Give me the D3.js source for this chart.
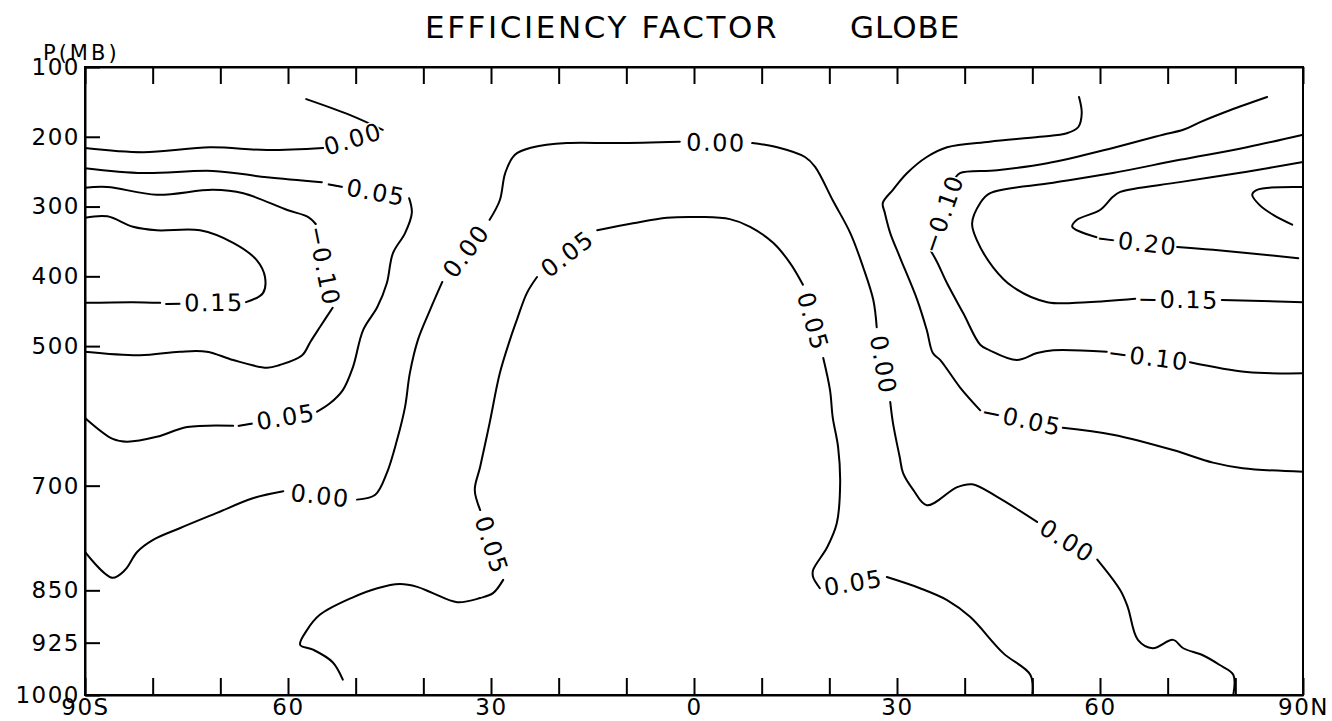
<!DOCTYPE html>
<html>
<head>
<meta charset="utf-8">
<script src="https://cdn.jsdelivr.net/npm/d3@7"></script>
<style>
  body { margin: 0; background: #fff; }
  svg { display: block; font-family: "DejaVu Sans", sans-serif; }
  .axis path, .axis line { stroke: #000; stroke-width: 2; }
  .axis text { font-size: 23px; letter-spacing: 1.5px; fill: #000; }
  .contour { fill: none; stroke: #000; stroke-width: 2; stroke-linejoin: round; stroke-linecap: round; }
  .clabel { font-size: 24px; letter-spacing: 1.5px; fill: #000; stroke: #fff; stroke-width: 3; paint-order: stroke; }
</style>
</head>
<body>
<div id="chart"></div>
<script>
// axis values
var latTicks = d3.range(-90, 91, 10);
var latLabels = [-90, -60, -30, 0, 30, 60, 90];
var pTicks = [100, 200, 300, 400, 500, 700, 850, 925, 1000];

// contour lines, [lat, pressure(mb)], null = gap where the label sits
var southUpper000 = [[-90,216],[-81.4,222],[-71.5,215],[-63.1,219],[-54.8,216],null,[-46.0,190],[-50.8,169],[-57.3,146]];
var southNeg005 = [[-90,245],[-81.4,252],[-71.1,249],[-63.1,258],[-55.0,265],null,[-42.1,288],[-41.7,309],[-42.7,338],
  [-44.5,367],[-45.4,410],[-46.8,444],[-48.9,477],[-50.4,530],[-51.9,563],[-53.8,582],[-55.7,594],null,
  [-68.1,614],[-74.9,616],[-79.4,630],[-83.8,637],[-85.9,633],[-90,603]];
var southNeg010 = [[-90,273],[-86.7,272],[-79.4,283],[-71.1,276],[-66.6,281],[-60.1,305],[-57.0,315],[-55.9,325],null,
  [-53.4,445],[-55.3,473],[-56.7,494],[-57.9,513],[-61.2,527],[-63.1,531],[-68.1,520],[-72.0,508],[-76.0,508],[-81.9,513],[-90,508]];
var southNeg015 = [[-90,316],[-86.7,314],[-82.9,329],[-79.4,334],[-73.0,334],[-68.1,352],[-64.6,377],[-63.4,401],
  [-63.7,424],[-66.2,437],null,[-78.9,438],[-82.9,437],[-90,438]];
var central000 = [[-90,795],[-86.0,832],[-84.1,821],[-82.3,795],[-80.0,778],[-76.0,761],[-70.5,739],[-65.2,718],[-60.7,708],null,
  [-49.8,720],[-47.1,713],[-45.4,682],[-43.9,635],[-42.7,587],[-42.0,539],[-40.8,491],[-39.0,448],[-37.2,408],null,
  [-30.2,319],[-28.7,291],[-27.9,252],[-26.5,226],[-23.8,215],[-18.8,209],[-11.4,209],[-2.1,207],null,
  [8.6,209],[12.3,215],[16.4,229],[17.9,243],[20.5,291],[23.1,338],[25.0,387],[26.5,434],[27.0,473],null,
  [29.0,580],[29.4,610],[30.4,659],[30.9,682],[32.4,706],[34.4,728],[38.9,702],[41.1,698],[44.8,716],[50.7,752],null,
  [59.6,806],[63.0,850],[64.1,874],[65.6,921],[67.8,933],[70.8,921],[72.3,933],[75.2,943],[77.7,957],[79.7,971],[79.7,1000]];
var central005 = [[-51.9,978],[-53.4,953],[-56.3,935],[-58.2,928],[-57.2,907],[-55.3,885],[-50.4,860],[-46.8,847],[-43.5,841],
  [-40.9,845],[-38.6,854],[-35.0,867],[-31.6,861],[-29.7,854],[-28.2,835],null,
  [-31.6,735],[-32.4,706],[-31.6,673],[-30.2,610],[-28.7,539],[-27.2,491],[-26.2,463],[-24.7,424],[-23.2,401],null,
  [-14.3,334],[-9.0,324],[-4.0,316],[0.9,315],[5.3,318],[8.3,329],[11.7,352],[14.2,381],[16.1,412],null,
  [19.1,517],[20.1,563],[20.5,602],[21.3,645],[21.6,696],[21.1,754],[19.7,788],[17.6,821],[17.6,831],[18.6,847],null,
  [28.5,831],[33.4,847],[37.4,864],[40.8,888],[45.7,940],[49.7,971],[50.0,1000]];
var northNeg005 = [[56.9,143],[57.3,166],[56.8,186],[55.1,195],[51.1,200],[43.7,207],[37.4,215],[34.4,229],[31.5,252],
  [29.4,276],[27.9,295],[28.2,309],[29.0,338],[30.4,372],[33.0,434],[34.4,477],[35.3,510],[36.4,520],[39.3,559],[42.3,592],null,
  [54.5,617],[61.9,627],[70.8,649],[76.7,667],[81.1,675],[90,680]];
var northNeg010 = [[84.7,143],[79.2,162],[74.8,179],[72.3,190],[69.3,197],[61.9,216],[52.2,238],[44.8,248],[39.3,252],[38.6,259],null,
  [34.9,362],[35.9,379],[37.4,410],[39.8,453],[42.3,498],[43.7,506],[47.7,520],[50.7,510],[53.1,506],[61.0,508],null,
  [73.3,523],[81.7,537],[90,539]];
var northNeg015 = [[90,197],[81.7,215],[71.8,233],[61.9,252],[53.1,266],[43.7,281],[42.3,295],[41.1,324],[41.8,348],
  [44.2,387],[47.1,415],[52.2,437],[58.1,437],[65.2,432],null,[78.0,434],[90,437]];
var northNeg020 = [[90,236],[81.7,250],[71.8,265],[63.0,279],[61.9,286],[60.0,305],[56.6,319],[55.9,329],[59.5,344],null,
  [71.4,358],[76.7,362],[89.3,374]];
var northNeg025 = [[90,272],[83.2,276],[82.5,283],[83.6,298],[85.6,312],[88.4,326]];

var contours = [
  {level: 0.00, pts: southUpper000},
  {level: -0.05, pts: southNeg005},
  {level: -0.10, pts: southNeg010},
  {level: -0.15, pts: southNeg015},
  {level: 0.00, pts: central000},
  {level: 0.05, pts: central005},
  {level: -0.05, pts: northNeg005},
  {level: -0.10, pts: northNeg010},
  {level: -0.15, pts: northNeg015},
  {level: -0.20, pts: northNeg020},
  {level: -0.25, pts: northNeg025}
];

(function(){
  var W = 1332, H = 721;
  var padL = 85, padR = 1303, padT = 67, padB = 695;

  var svg = d3.select('#chart').append('svg')
    .attr('width', W)
    .attr('height', H);

  svg.append('rect').attr('width', W).attr('height', H).style('fill', '#fff');

  var x = d3.scaleLinear().domain([-90, 90]).range([padL, padR]);
  var y = d3.scaleLinear().domain([100, 1000]).range([padT, padB]);

  function latFormat(d) {
    if (latLabels.indexOf(d) < 0) return '';
    if (d === -90) return '90S';
    if (d === 90) return '90N';
    return String(Math.abs(d));
  }

  // top ticks (no labels)
  svg.append('g').attr('class', 'axis')
    .attr('transform', 'translate(0,' + padT + ')')
    .call(d3.axisTop(x).tickValues(latTicks).tickSize(-17).tickSizeOuter(0).tickFormat(''));

  // bottom ticks + labels
  svg.append('g').attr('class', 'axis')
    .attr('transform', 'translate(0,' + padB + ')')
    .call(d3.axisBottom(x).tickValues(latTicks).tickSize(-17).tickSizeOuter(0).tickPadding(4).tickFormat(latFormat));

  // pressure axis
  svg.append('g').attr('class', 'axis')
    .attr('transform', 'translate(' + padL + ',0)')
    .call(d3.axisLeft(y).tickValues(pTicks).tickSize(-15).tickSizeOuter(0).tickPadding(5).tickFormat(d3.format('d')));

  svg.selectAll('.axis g').attr('font-family', null);
  svg.selectAll('.axis').attr('font-family', null).attr('font-size', null);

  // frame
  svg.append('rect')
    .attr('x', padL).attr('y', padT)
    .attr('width', padR - padL).attr('height', padB - padT)
    .style('fill', 'none').style('stroke', '#000').style('stroke-width', 2);

  // contour lines
  var line = d3.line()
    .defined(function(d){ return d !== null; })
    .x(function(d){ return x(d[0]); })
    .y(function(d){ return y(d[1]); })
    .curve(d3.curveCatmullRom.alpha(0.5));

  var fmt = d3.format('.2f');

  contours.forEach(function(c) {
    svg.append('path')
      .attr('class', 'contour')
      .attr('d', line(c.pts));

    for (var i = 1; i < c.pts.length - 1; i++) {
      if (c.pts[i] !== null) continue;
      var a = c.pts[i - 1], b = c.pts[i + 1];
      var ax = x(a[0]), ay = y(a[1]), bx = x(b[0]), by = y(b[1]);
      var ang = Math.atan2(by - ay, bx - ax) * 180 / Math.PI;
      if (ang > 90) ang -= 180;
      if (ang <= -90) ang += 180;
      var mx = (ax + bx) / 2, my = (ay + by) / 2;
      svg.append('text')
        .attr('class', 'clabel')
        .attr('text-anchor', 'middle')
        .attr('dy', '0.36em')
        .attr('transform', 'translate(' + mx + ',' + my + ') rotate(' + ang + ')')
        .text(fmt(c.level));
    }
  });

  // titles
  svg.append('text')
    .attr('x', 425).attr('y', 38)
    .style('font-size', '31px').style('letter-spacing', '2.6px')
    .text('EFFICIENCY FACTOR');
  svg.append('text')
    .attr('x', 850).attr('y', 38)
    .style('font-size', '31px').style('letter-spacing', '1px')
    .text('GLOBE');
  svg.append('text')
    .attr('x', 43).attr('y', 60)
    .style('font-size', '21px').style('letter-spacing', '3px')
    .text('P(MB)');
})();
</script>
</body>
</html>
